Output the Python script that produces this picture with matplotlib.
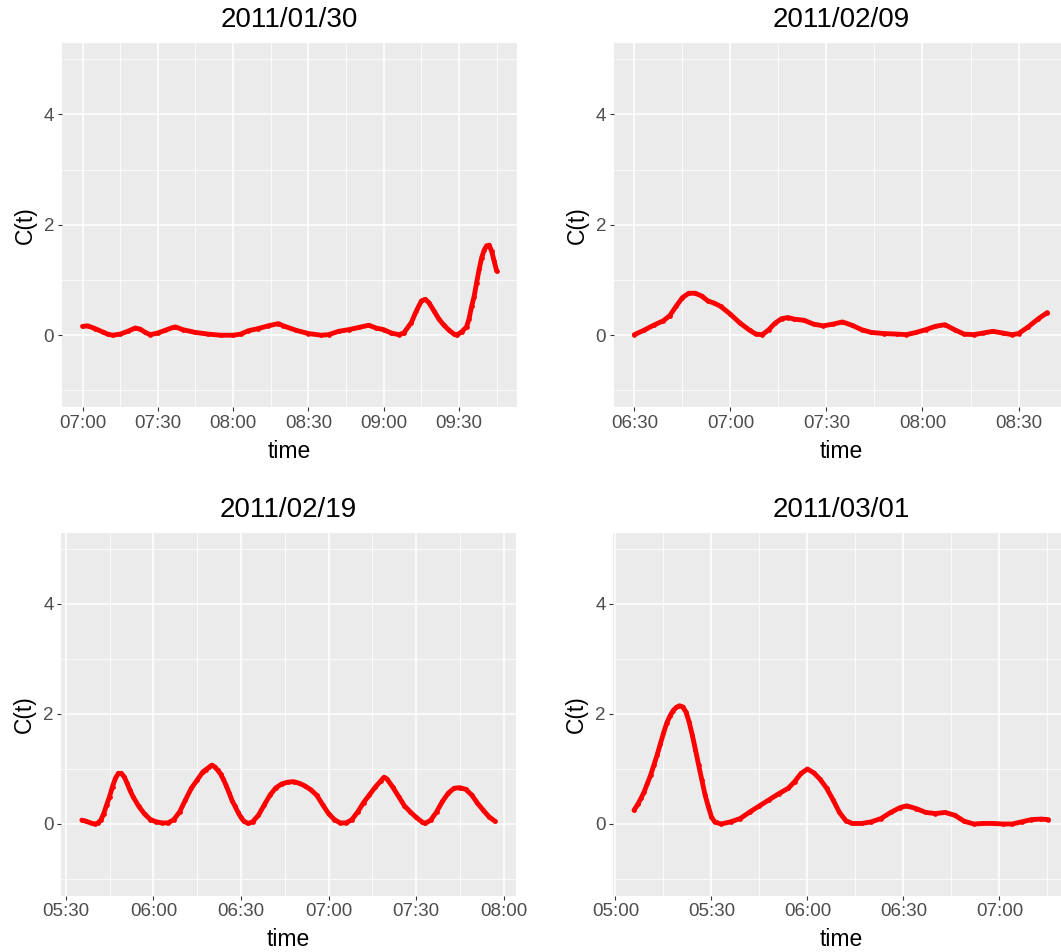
import numpy as np
import matplotlib
matplotlib.use("Agg")
import matplotlib.pyplot as plt
from matplotlib.ticker import FixedLocator, FuncFormatter

plt.rcParams['font.family'] = ['Liberation Sans', 'DejaVu Sans']

# ---------------- data ----------------
titles = ["2011/01/30", "2011/02/09", "2011/02/19", "2011/03/01"]
start_times = ["07:00", "06:30", "05:30", "05:00"]

# minutes after the start time
p1_minutes = [0, 2, 5, 8, 10, 12, 15, 18, 21, 23, 25, 27, 30, 33, 36, 37, 40, 45, 50, 55,
              60, 63, 66, 70, 74, 78, 80, 85, 90, 95, 98, 102, 106, 110, 114, 117, 120, 123,
              126, 128, 131, 133, 135, 136.5, 138, 140, 142, 144, 146, 148, 149, 151, 153,
              154, 155, 156, 157, 158, 159, 160, 161, 162, 163, 164, 165]
p1_values = [0.16, 0.17, 0.12, 0.06, 0.02, 0.0, 0.02, 0.07, 0.13, 0.11, 0.05, 0.01, 0.04, 0.09,
             0.14, 0.15, 0.10, 0.05, 0.02, 0.0, 0.0, 0.02, 0.08, 0.12, 0.17, 0.21, 0.17, 0.09,
             0.03, 0.0, 0.01, 0.07, 0.10, 0.14, 0.18, 0.13, 0.10, 0.04, 0.01, 0.04, 0.23, 0.44,
             0.62, 0.65, 0.59, 0.44, 0.29, 0.18, 0.09, 0.02, 0.0, 0.06, 0.15, 0.30, 0.52, 0.70,
             0.95, 1.19, 1.40, 1.54, 1.62, 1.63, 1.52, 1.34, 1.16]

p2_minutes = [0, 3, 6, 9, 11, 13, 15, 17, 19, 21, 23, 25, 27, 30, 33, 36, 38, 40, 42, 44, 46,
              48, 50, 53, 56, 59, 62, 65, 68, 71, 74, 78, 82, 85, 88, 91, 94, 97, 100, 103,
              106, 109, 112, 115, 118, 120, 123, 126, 129]
p2_values = [0.01, 0.09, 0.18, 0.26, 0.35, 0.52, 0.68, 0.76, 0.76, 0.71, 0.62, 0.58, 0.52,
             0.38, 0.22, 0.09, 0.02, 0.01, 0.10, 0.22, 0.30, 0.32, 0.29, 0.27, 0.20, 0.17,
             0.20, 0.24, 0.18, 0.10, 0.05, 0.03, 0.02, 0.01, 0.05, 0.10, 0.16, 0.19, 0.10,
             0.02, 0.01, 0.04, 0.07, 0.04, 0.01, 0.03, 0.15, 0.29, 0.41]

p3_minutes = [5.5, 7, 9, 10, 11, 12, 13, 14, 15, 16, 17, 18, 19, 20, 21, 22, 23, 25, 27, 29,
              31, 33, 35, 37, 39, 41, 43, 45, 47, 48, 49, 50, 51, 52, 53, 54, 55, 56, 57, 58,
              59, 60, 61, 62.5, 64, 66, 68, 70, 72, 74, 76, 78, 80, 82, 84, 86, 88, 90, 92,
              94, 96, 98, 100, 102, 104, 106, 108, 109, 110, 112, 114, 116, 118, 120, 122,
              123, 125, 127, 129, 131, 133, 135, 137, 139, 141, 143, 145, 147]
p3_values = [0.07, 0.05, 0.01, 0.0, 0.02, 0.07, 0.19, 0.35, 0.50, 0.68, 0.83, 0.92, 0.92, 0.86,
             0.74, 0.61, 0.50, 0.32, 0.18, 0.08, 0.04, 0.02, 0.02, 0.08, 0.22, 0.44, 0.65,
             0.80, 0.95, 0.99, 1.03, 1.07, 1.04, 0.98, 0.91, 0.81, 0.69, 0.56, 0.42, 0.32,
             0.21, 0.12, 0.05, 0.01, 0.04, 0.16, 0.35, 0.53, 0.66, 0.73, 0.76, 0.77, 0.74,
             0.69, 0.62, 0.52, 0.35, 0.19, 0.08, 0.02, 0.02, 0.08, 0.22, 0.39, 0.53, 0.67,
             0.79, 0.85, 0.82, 0.67, 0.50, 0.33, 0.22, 0.12, 0.04, 0.01, 0.07, 0.22, 0.41,
             0.56, 0.65, 0.66, 0.63, 0.53, 0.38, 0.25, 0.13, 0.05]

p4_minutes = [5.8, 7, 8, 9, 10, 11, 12, 13, 14, 15, 16, 17, 18, 19, 20, 21, 22, 23, 24, 25,
              26, 27, 28, 29, 30, 31, 33, 36, 39, 42, 45, 48, 51, 54, 56, 58, 60, 62, 64, 66,
              68, 70, 72, 74, 77, 80, 83, 86, 89, 91, 94, 97, 100, 103, 106, 109, 112, 115,
              118, 121, 124, 127, 130, 133, 135.3]
p4_values = [0.25, 0.36, 0.47, 0.59, 0.74, 0.89, 1.07, 1.25, 1.45, 1.65, 1.83, 1.96, 2.06,
             2.12, 2.15, 2.13, 2.04, 1.86, 1.62, 1.35, 1.07, 0.80, 0.53, 0.32, 0.13, 0.04,
             0.0, 0.04, 0.10, 0.22, 0.33, 0.44, 0.55, 0.65, 0.77, 0.92, 1.0, 0.93, 0.81, 0.65,
             0.44, 0.21, 0.06, 0.01, 0.01, 0.04, 0.10, 0.21, 0.30, 0.33, 0.28, 0.21, 0.19,
             0.21, 0.16, 0.05, 0.0, 0.01, 0.01, 0.0, 0.0, 0.04, 0.08, 0.09, 0.08]

minutes_list = [p1_minutes, p2_minutes, p3_minutes, p4_minutes]
values_list = [p1_values, p2_values, p3_values, p4_values]

y_major = [0, 2, 4]
y_minor = [-1, 1, 3, 5]
y_limits = (-1, 5)

# ---------------- layout (pixels) ----------------
W, H = 1061, 952
# left, top, width, height in px
boxes = [(61.8, 42.5, 455.6, 364.5),
         (613.7, 42.5, 454.3, 364.5),
         (61.2, 532.5, 454.4, 363.0),
         (613.3, 532.5, 455.8, 363.0)]


def hm_to_min(s):
    h, m = s.split(":")
    return int(h) * 60 + int(m)


def fmt_time(x, pos=None):
    x = int(round(x))
    return "%02d:%02d" % (x // 60, x % 60)


fig = plt.figure(figsize=(W / 100, H / 100), dpi=100)
fig.patch.set_facecolor("white")

for i in range(4):
    l, t, w, h = boxes[i]
    ax = fig.add_axes([l / W, 1 - (t + h) / H, w / W, h / H])
    base = hm_to_min(start_times[i])
    x = base + np.array(minutes_list[i], dtype=float)
    y = np.array(values_list[i], dtype=float)

    rng = x.max() - x.min()
    x0, x1 = x.min() - 0.05 * rng, x.max() + 0.05 * rng
    ax.set_xlim(x0, x1)
    yr = y_limits[1] - y_limits[0]
    ax.set_ylim(y_limits[0] - 0.05 * yr, y_limits[1] + 0.05 * yr)

    majors = [m for m in range(int(x0) - 60, int(x1) + 60) if m % 30 == 0 and x0 <= m <= x1]
    minors = [m for m in range(int(x0) - 60, int(x1) + 60) if m % 30 == 15 and x0 <= m <= x1]
    ax.xaxis.set_major_locator(FixedLocator(majors))
    ax.xaxis.set_minor_locator(FixedLocator(minors))
    ax.xaxis.set_major_formatter(FuncFormatter(fmt_time))
    ax.yaxis.set_major_locator(FixedLocator(y_major))
    ax.yaxis.set_minor_locator(FixedLocator(y_minor))

    ax.set_facecolor("#EBEBEB")
    ax.grid(which="major", color="white", linewidth=1.1)
    ax.grid(which="minor", color="white", linewidth=0.55)
    ax.set_axisbelow(True)
    for sp in ax.spines.values():
        sp.set_visible(False)

    ax.tick_params(which="major", length=3.0, width=0.8, color="#333333",
                   labelsize=13.5, labelcolor="#4D4D4D", pad=2.5)
    ax.tick_params(which="minor", length=0)

    ax.plot(x, y, color="#FF0000", linewidth=3.5, marker="o", markersize=3.4,
            markeredgewidth=0, solid_capstyle="round", solid_joinstyle="round", zorder=3)

    ax.set_xlabel("time", fontsize=16.5, color="black", labelpad=6)
    ax.set_ylabel("C(t)", fontsize=16.5, color="black", labelpad=5)
    ax.set_title(titles[i], fontsize=20, color="black", pad=11.5)

fig.savefig("out.png", dpi=100)
